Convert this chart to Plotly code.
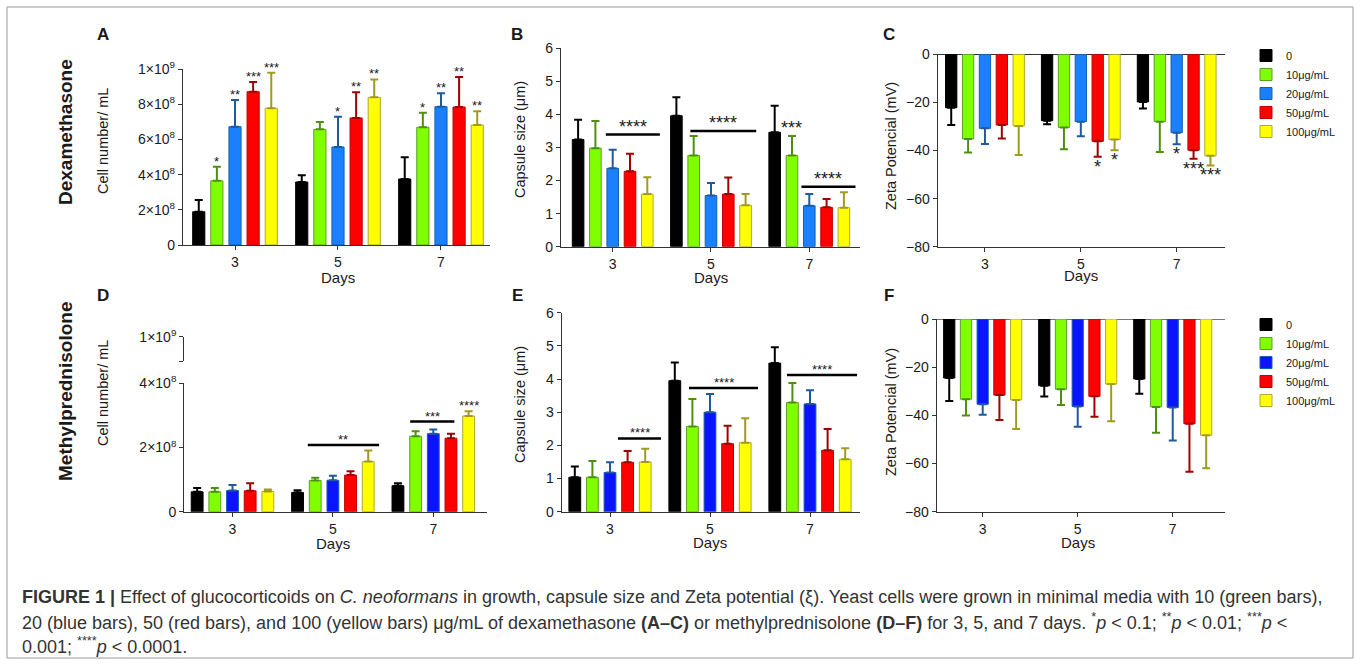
import plotly.graph_objects as go

W, H = 1360, 668
FONT = "Arial, 'Liberation Sans', Helvetica, sans-serif"


def px_x(x):
    return x / W


def px_y(y):
    return 1 - y / H


# ---------------- data ----------------
days = ["3", "5", "7"]
day_idx = [0, 1, 2]
conc_names = ["0", "10μg/mL", "20μg/mL", "50μg/mL", "100μg/mL"]

# A: Dexamethasone, cell number (x1e8 cells/mL), rows = concentrations
dex_cells = [[1.89, 3.58, 3.75], [3.65, 6.57, 6.69], [6.72, 5.57, 7.86],
             [8.71, 7.22, 7.84], [7.77, 8.39, 6.82]]
dex_cells_err = [[0.66, 0.38, 1.23], [0.80, 0.42, 0.83], [1.52, 1.72, 0.76],
                 [0.55, 1.46, 1.71], [2.02, 1.02, 0.78]]
dex_cells_sig = [["", "", ""], ["*", "", "*"], ["**", "*", "**"],
                 ["***", "**", "**"], ["***", "**", "**"]]

# B: Dexamethasone, capsule size (µm)
dex_caps = [[3.24, 3.96, 3.46], [2.98, 2.76, 2.76], [2.37, 1.55, 1.24],
            [2.28, 1.59, 1.19], [1.59, 1.25, 1.18]]
dex_caps_err = [[0.60, 0.56, 0.80], [0.82, 0.59, 0.59], [0.56, 0.38, 0.35],
                [0.53, 0.50, 0.25], [0.51, 0.34, 0.47]]
dex_caps_sig = [["", "", ""], ["", "", "***"], ["", "", ""], ["", "", ""], ["", "", ""]]
dex_caps_brackets = [(0, -0.07, 0.48, 3.39, "****"), (1, -0.21, 0.46, 3.50, "****"),
                     (2, -0.08, 0.47, 1.81, "****")]

# C: Dexamethasone, zeta potential (mV)
dex_zeta = [[-22.2, -27.6, -19.8], [-35.2, -30.4, -28.0], [-30.8, -28.0, -32.6],
            [-29.4, -36.2, -39.9], [-29.8, -35.4, -42.2]]
dex_zeta_err = [[7.2, 1.5, 2.7], [5.6, 9.1, 12.6], [6.5, 6.1, 4.8],
                [5.6, 6.4, 3.5], [12.1, 4.5, 4.0]]
dex_zeta_sig = [["", "", ""], ["", "", ""], ["", "", "*"], ["", "*", "***"], ["", "*", "***"]]

# D: Methylprednisolone, cell number (x1e8 cells/mL)
mp_cells = [[0.62, 0.60, 0.81], [0.62, 0.97, 2.35], [0.66, 0.98, 2.43],
            [0.65, 1.14, 2.29], [0.63, 1.56, 2.98]]
mp_cells_err = [[0.12, 0.07, 0.08], [0.12, 0.09, 0.16], [0.17, 0.14, 0.13],
                [0.24, 0.12, 0.14], [0.06, 0.35, 0.15]]
mp_cells_sig = [["", "", ""], ["", "", ""], ["", "", ""], ["", "", ""], ["", "", "****"]]
mp_cells_brackets = [(1, -0.25, 0.46, 2.08, "**"), (2, -0.23, 0.21, 2.81, "***")]

# E: Methylprednisolone, capsule size (µm)
mp_caps = [[1.04, 3.95, 4.48], [1.04, 2.57, 3.29], [1.18, 3.00, 3.25],
           [1.49, 2.05, 1.85], [1.50, 2.08, 1.58]]
mp_caps_err = [[0.32, 0.55, 0.48], [0.49, 0.83, 0.59], [0.31, 0.55, 0.41],
               [0.34, 0.54, 0.64], [0.40, 0.74, 0.33]]
mp_caps_brackets = [(0, 0.08, 0.51, 2.21, "****"), (1, -0.21, 0.48, 3.73, "****"),
                    (2, -0.23, 0.47, 4.12, "****")]

# F: Methylprednisolone, zeta potential (mV)
mp_zeta = [[-24.5, -27.7, -24.9], [-33.3, -29.2, -36.5], [-35.4, -36.3, -36.7],
           [-31.6, -32.1, -43.5], [-33.6, -27.0, -48.3]]
mp_zeta_err = [[9.5, 4.5, 6.1], [6.8, 6.5, 10.7], [4.3, 8.4, 13.7],
               [10.3, 8.5, 19.9], [12.1, 15.4, 13.7]]

# ---------------- style ----------------
fill_dex = ["#000000", "#80ff00", "#1a80ff", "#ff0000", "#ffff00"]
fill_mp = ["#000000", "#80ff00", "#0a14ff", "#ff0000", "#ffff00"]
edge_col = ["#000000", "#5f9f1f", "#1560b0", "#c00000", "#b0a830"]
err_col = ["#000000", "#4f8f10", "#1f5a9a", "#a00000", "#a09a20"]
AX = "#333333"
TXT = "#1a1a1a"

BARGAP = 0.12
BARGROUPGAP = 0.33
slot = (1 - BARGAP) / 5
offsets = [(i - 2) * slot for i in range(5)]

panels = [
    dict(key="A", ax="", vals=dex_cells, err=dex_cells_err, sig=dex_cells_sig, br=[],
         scale=1e8, fill=fill_dex, legend=None, star=13, brstar=13),
    dict(key="B", ax="2", vals=dex_caps, err=dex_caps_err, sig=dex_caps_sig,
         br=dex_caps_brackets, scale=1, fill=fill_dex, legend=None, star=18, brstar=18),
    dict(key="C", ax="3", vals=dex_zeta, err=dex_zeta_err, sig=dex_zeta_sig, br=[],
         scale=1, fill=fill_dex, legend="legend", star=18, brstar=18),
    dict(key="D", ax="4", vals=mp_cells, err=mp_cells_err, sig=mp_cells_sig,
         br=mp_cells_brackets, scale=1e8, fill=fill_mp, legend=None, star=13, brstar=13),
    dict(key="E", ax="5", vals=mp_caps, err=mp_caps_err, sig=None,
         br=mp_caps_brackets, scale=1, fill=fill_mp, legend=None, star=13, brstar=13),
    dict(key="F", ax="6", vals=mp_zeta, err=mp_zeta_err, sig=None, br=[],
         scale=1, fill=fill_mp, legend="legend2", star=13, brstar=13),
]

fig = go.Figure()
annotations = []
shapes = []

for p in panels:
    xa = "x" + p["ax"]
    ya = "y" + p["ax"]
    for i in range(5):
        vals = [v * p["scale"] for v in p["vals"][i]]
        errs = [e * p["scale"] for e in p["err"][i]]
        neg = vals[0] < 0
        ey = dict(type="data", symmetric=False,
                  array=[0] * 3 if neg else errs,
                  arrayminus=errs if neg else [0] * 3,
                  color=err_col[i], thickness=2, width=4)
        fig.add_trace(go.Bar(
            x=day_idx, y=vals, error_y=ey, name=conc_names[i],
            marker=dict(color=p["fill"][i], line=dict(color=edge_col[i], width=1)),
            xaxis=xa, yaxis=ya,
            showlegend=p["legend"] is not None,
            legend=p["legend"] if p["legend"] else "legend",
        ))
        # significance stars on single bars
        if p["sig"]:
            for d in day_idx:
                s = p["sig"][i][d]
                if not s:
                    continue
                if neg:
                    annotations.append(dict(
                        x=d + offsets[i], y=vals[d] - errs[d], xref=xa, yref=ya,
                        text=s, showarrow=False, yanchor="top", yshift=2,
                        font=dict(size=p["star"], color=TXT)))
                else:
                    annotations.append(dict(
                        x=d + offsets[i], y=vals[d] + errs[d], xref=xa, yref=ya,
                        text=s, showarrow=False, yanchor="bottom", yshift=-4,
                        font=dict(size=p["star"], color=TXT)))
    # brackets
    for (d, r0, r1, yv, lab) in p["br"]:
        shapes.append(dict(type="line", xref=xa, yref=ya, x0=d + r0, x1=d + r1,
                           y0=yv * p["scale"], y1=yv * p["scale"],
                           line=dict(color="#000000", width=2.5)))
        annotations.append(dict(x=d + (r0 + r1) / 2, y=yv * p["scale"], xref=xa, yref=ya,
                                text=lab, showarrow=False, yanchor="bottom", yshift=-4,
                                font=dict(size=p["brstar"], color=TXT)))

# empty trace to materialise the broken upper segment of panel D's y axis
fig.add_trace(go.Scatter(x=[], y=[], xaxis="x4", yaxis="y7", showlegend=False))

# ---------------- axes ----------------
axis_common = dict(showline=True, linecolor=AX, linewidth=1.3, ticks="outside",
                   ticklen=4, tickwidth=1.3, tickcolor=AX, showgrid=False, zeroline=False,
                   tickfont=dict(size=14, color=TXT), fixedrange=True, automargin=False)

# (x0px, x1px, xrange, ytop px, ybottom px, yrange)
geom = {
    "": (183, 490, [-0.505, 2.476], 69, 245, [0, 1e9]),
    "2": (561, 860, [-0.526, 2.516], 48.3, 246.7, [0, 6]),
    "3": (937.7, 1225, [-0.493, 2.504], 54.3, 246.7, [-80, 0]),
    "4": (184.3, 487, [-0.48, 2.535], 383.3, 511.7, [0, 4e8]),
    "5": (561.7, 860, [-0.483, 2.5], 312.7, 511.7, [0, 6]),
    "6": (936.7, 1225, [-0.484, 2.55], 319, 511.7, [-80, 0]),
}

layout_axes = {}
for k, (x0, x1, xr, yt, yb, yr) in geom.items():
    layout_axes["xaxis" + k] = dict(axis_common, domain=[px_x(x0), px_x(x1)], range=xr,
                                    anchor="y" + k, tickvals=day_idx, ticktext=days)
    layout_axes["yaxis" + k] = dict(axis_common, domain=[px_y(yb), px_y(yt)], range=yr,
                                    anchor="x" + k)

sup = lambda m, e: f"{m}×10<sup>{e}</sup>"
layout_axes["yaxis"].update(tickvals=[0, 2e8, 4e8, 6e8, 8e8, 1e9],
                            ticktext=["0", sup(2, 8), sup(4, 8), sup(6, 8), sup(8, 8), sup(1, 9)])
layout_axes["yaxis2"].update(tickvals=[0, 1, 2, 3, 4, 5, 6])
layout_axes["yaxis5"].update(tickvals=[0, 1, 2, 3, 4, 5, 6])
layout_axes["yaxis3"].update(tickvals=[0, -20, -40, -60, -80], zeroline=True,
                             zerolinecolor=AX, zerolinewidth=1.3)
layout_axes["yaxis6"].update(tickvals=[0, -20, -40, -60, -80], zeroline=True,
                             zerolinecolor="#777777", zerolinewidth=1.3)
layout_axes["yaxis4"].update(tickvals=[0, 2e8, 4e8], ticktext=["0", sup(2, 8), sup(4, 8)])
layout_axes["yaxis7"] = dict(axis_common, domain=[px_y(361), px_y(336.7)], range=[7e8, 1e9],
                             anchor="x4", tickvals=[7e8, 1e9], ticktext=[" ", sup(1, 9)])

# ---------------- text ----------------
def txt(x, y, s, size, bold=False, angle=0, xanchor="center", yanchor="middle", color=TXT):
    return dict(x=px_x(x), y=px_y(y), xref="paper", yref="paper", text=s, showarrow=False,
                textangle=angle, xanchor=xanchor, yanchor=yanchor,
                font=dict(size=size, color=color, family=FONT))


for lab, x, y in [("A", 103, 34), ("B", 517, 34), ("C", 889, 34),
                  ("D", 103, 296), ("E", 517, 296), ("F", 889, 296)]:
    annotations.append(txt(x, y, f"<b>{lab}</b>", 17))

annotations.append(txt(65, 132, "<b>Dexamethasone</b>", 19, angle=-90))
annotations.append(txt(65, 392, "<b>Methylprednisolone</b>", 19, angle=-90))

for x, y, s in [(103, 141, "Cell number/ mL"), (520, 140, "Capsule size (μm)"),
                (891, 146, "Zeta Potencial (mV)"), (103, 393, "Cell number/ mL"),
                (520, 405, "Capsule size (μm)"), (891, 412, "Zeta Potencial (mV)")]:
    annotations.append(txt(x, y, s, 14.5, angle=-90))

for k, y in [("", 277), ("2", 277), ("3", 275), ("4", 543), ("5", 542), ("6", 542)]:
    annotations.append(dict(x=1, y=px_y(y), xref="x" + k, yref="paper", text="Days",
                            showarrow=False, yanchor="middle",
                            font=dict(size=15, color=TXT, family=FONT)))

cap1 = ("<b>FIGURE 1 |</b> Effect of glucocorticoids on <i>C. neoformans</i> in growth, capsule "
        "size and Zeta potential (ξ). Yeast cells were grown in minimal media with 10 (green bars),")
cap2 = ("20 (blue bars), 50 (red bars), and 100 (yellow bars) μg/mL of dexamethasone <b>(A–C)</b> "
        "or methylprednisolone <b>(D–F)</b> for 3, 5, and 7 days. <sup>*</sup><i>p</i> &lt; 0.1; "
        "<sup>**</sup><i>p</i> &lt; 0.01; <sup>***</sup><i>p</i> &lt;")
cap3 = "0.001; <sup>****</sup><i>p</i> &lt; 0.0001."
for y, s in [(597, cap1), (621, cap2), (645, cap3)]:
    annotations.append(txt(20, y, s, 18, xanchor="left", color="#333333"))

shapes.append(dict(type="rect", xref="paper", yref="paper", x0=px_x(7), x1=px_x(1353),
                   y0=px_y(658), y1=px_y(7), line=dict(color="#999999", width=1)))

legend_style = dict(xanchor="left", yanchor="top", font=dict(size=11, color=TXT, family=FONT),
                    bgcolor="rgba(0,0,0,0)", tracegroupgap=0, itemwidth=30,
                    itemclick=False, itemdoubleclick=False)

fig.update_layout(
    width=W, height=H, margin=dict(l=0, r=0, t=0, b=0, pad=0, autoexpand=False),
    paper_bgcolor="white", plot_bgcolor="white",
    font=dict(family=FONT, color=TXT),
    barmode="group", bargap=BARGAP, bargroupgap=BARGROUPGAP,
    annotations=annotations, shapes=shapes,
    legend=dict(legend_style, x=px_x(1246), y=px_y(41)),
    legend2=dict(legend_style, x=px_x(1246), y=px_y(310)),
    **layout_axes,
)

fig.write_html("out.html", config={"displayModeBar": False},
               post_script="document.body.style.margin='0px';"
                           "document.body.style.padding='0px';")
